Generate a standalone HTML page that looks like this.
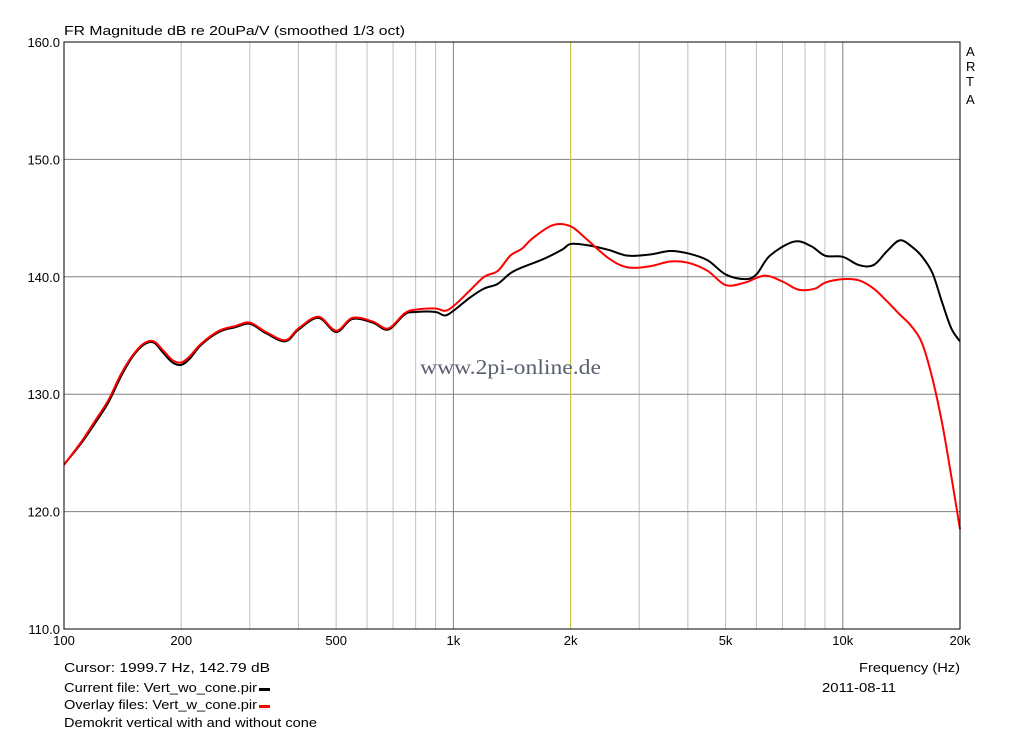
<!DOCTYPE html>
<html><head><meta charset="utf-8"><style>
body{margin:0;background:#fff;}
svg text{font-family:"Liberation Sans",sans-serif;font-size:13px;fill:#000;}
</style></head><body>
<svg id="c" width="1024" height="735">
<text x="64" y="35" textLength="341" lengthAdjust="spacingAndGlyphs">FR Magnitude dB re 20uPa/V (smoothed 1/3 oct)</text>
<g id="grid"></g>
<g id="labels"></g>
<text x="420" y="374" textLength="181" lengthAdjust="spacingAndGlyphs" style="font-family:'Liberation Serif',serif;font-size:21px;fill:#5a6070">www.2pi-online.de</text>
<g id="series"></g>
<rect x="64" y="42" width="896" height="587" fill="none" stroke="#000" stroke-width="1"/>
<g><text x="966" y="56">A</text><text x="966" y="71">R</text><text x="966" y="86">T</text><text x="966" y="104">A</text></g>
<text x="64" y="672" textLength="206" lengthAdjust="spacingAndGlyphs">Cursor: 1999.7 Hz, 142.79 dB</text>
<text x="859" y="672" textLength="101" lengthAdjust="spacingAndGlyphs">Frequency (Hz)</text>
<text x="64" y="692" textLength="193" lengthAdjust="spacingAndGlyphs">Current file: Vert_wo_cone.pir</text>
<rect x="259" y="688" width="11" height="3" fill="#000"/>
<text x="822" y="692" textLength="74" lengthAdjust="spacingAndGlyphs">2011-08-11</text>
<text x="64" y="709" textLength="193" lengthAdjust="spacingAndGlyphs">Overlay files: Vert_w_cone.pir</text>
<rect x="259" y="705" width="11" height="3" fill="#f00"/>
<text x="64" y="727" textLength="253" lengthAdjust="spacingAndGlyphs">Demokrit vertical with and without cone</text>
</svg>
<script>
const yTicks=[110,120,130,140,150,160];
const yTickLabels=["110.0","120.0","130.0","140.0","150.0","160.0"];
const xTicks=[100,200,500,1000,2000,5000,10000,20000];
const xTickLabels=["100","200","500","1k","2k","5k","10k","20k"];
const cursorFreq=1999.7;
const blackFreq=[100,110,120,130,140,150,160,170,180,190,200,210,225,250,275,300,330,370,400,450,500,550,620,680,750,800,900,950,1000,1100,1200,1300,1400,1500,1700,1900,2000,2200,2500,2800,3200,3600,4000,4500,5000,5600,6000,6500,7500,8300,9000,10000,11000,12000,13000,14000,15000,16000,17000,18000,19000,20000];
const blackDb=[124,125.7,127.5,129.3,131.5,133.2,134.2,134.4,133.5,132.7,132.5,133,134.2,135.3,135.7,136,135.2,134.5,135.5,136.5,135.3,136.4,136.1,135.5,136.8,137,137,136.7,137.1,138.2,139,139.4,140.3,140.8,141.5,142.3,142.8,142.7,142.3,141.8,141.9,142.2,142,141.4,140.2,139.8,140.2,141.8,143,142.6,141.8,141.7,141,141,142.2,143.1,142.6,141.7,140.3,137.8,135.6,134.5];
const redFreq=[100,110,120,130,140,150,160,170,180,190,200,210,225,250,275,300,330,370,400,450,500,550,620,680,750,800,900,950,1000,1100,1200,1300,1400,1500,1600,1800,2000,2200,2500,2800,3200,3600,4000,4500,5000,5600,6300,7000,7700,8500,9000,10000,11000,12000,13000,14000,15000,16000,17000,18000,19000,20000];
const redDb=[124,125.8,127.7,129.5,131.7,133.3,134.3,134.5,133.7,132.9,132.7,133.2,134.3,135.4,135.8,136.1,135.3,134.6,135.6,136.6,135.4,136.5,136.2,135.6,136.9,137.2,137.3,137.1,137.5,138.8,140,140.5,141.8,142.4,143.3,144.4,144.3,143.2,141.6,140.8,140.9,141.3,141.2,140.5,139.3,139.5,140.1,139.6,138.9,139,139.5,139.8,139.7,139,137.9,136.8,135.8,134.3,131.3,127.5,123,118.5];

const L=64,R=960,T=42,B=629;
const xs=f=>L+(Math.log10(f)-2)/Math.log10(200)*(R-L);
const ys=d=>T+(160-d)/50*(B-T);
const NS="http://www.w3.org/2000/svg";
function mk(tag,attrs,parent){const e=document.createElementNS(NS,tag);for(const k in attrs)e.setAttribute(k,attrs[k]);parent.appendChild(e);return e;}
const grid=document.getElementById('grid'),labels=document.getElementById('labels'),series=document.getElementById('series');
for(let dec=100;dec<=10000;dec*=10){for(let m=2;m<=9;m++){const f=dec*m;if(f>=20000)continue;
 const l=mk('line',{x1:xs(f),x2:xs(f),y1:T,y2:B,stroke:'#c0c0c0','stroke-width':1},grid);
 
 }}
[1000,10000].forEach(f=>{const l=mk('line',{x1:xs(f),x2:xs(f),y1:T,y2:B,stroke:'#808080','stroke-width':1},grid);
 
 });
yTicks.forEach((d,i)=>{const l=mk('line',{x1:L,x2:R,y1:ys(d),y2:ys(d),stroke:'#808080','stroke-width':1},grid);
 
 
 const t=mk('text',{x:L-4,y:ys(d)+5,'text-anchor':'end'},labels);t.textContent=yTickLabels[i];
 
 });
xTicks.forEach((f,i)=>{const t=mk('text',{x:xs(f),y:B+16,'text-anchor':'middle'},labels);t.textContent=xTickLabels[i];
 
 });
const cur=mk('line',{x1:xs(cursorFreq),x2:xs(cursorFreq),y1:T,y2:B,stroke:'#c8c040','stroke-width':1},grid);


function path(fr,db,color,name){
 const pts=fr.map((f,i)=>[xs(f),ys(db[i])]);
 let d='M'+pts[0][0]+','+pts[0][1];
 for(let i=0;i<pts.length-1;i++){const p0=pts[i-1]||pts[i],p1=pts[i],p2=pts[i+1],p3=pts[i+2]||p2;
  d+=` C${p1[0]+(p2[0]-p0[0])/6},${p1[1]+(p2[1]-p0[1])/6} ${p2[0]-(p3[0]-p1[0])/6},${p2[1]-(p3[1]-p1[1])/6} ${p2[0]},${p2[1]}`;}
 const p=mk('path',{d:d,fill:'none',stroke:color,'stroke-width':2},series);
 
 }
path(blackFreq,blackDb,'#000','current-file-curve');
path(redFreq,redDb,'#f00','overlay-file-curve');
</script>
</body></html>
